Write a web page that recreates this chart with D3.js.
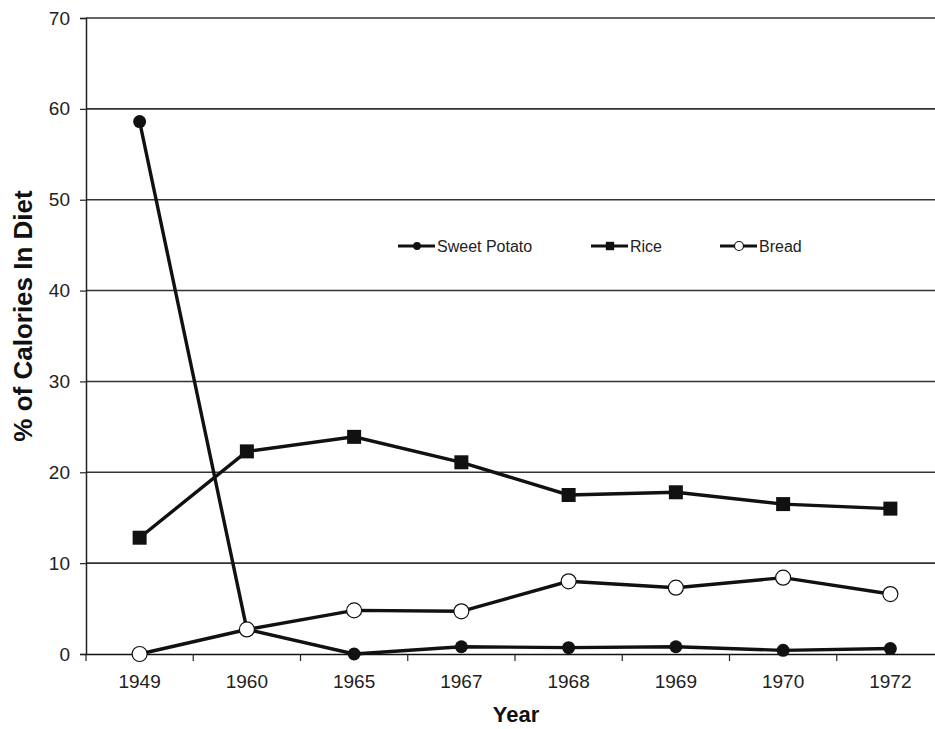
<html>
<head>
<script src="https://d3js.org/d3.v7.min.js"></script>
<style>
  body { margin: 0; background: white; }
  text { font-family: "Liberation Sans", Arial, sans-serif; }
</style>
</head>
<body>
<svg id="chart" width="935" height="729"></svg>
<script>
  const years = ["1949", "1960", "1965", "1967", "1968", "1969", "1970", "1972"];
  const sweetPotato = [58.6, 2.7, 0, 0.8, 0.7, 0.8, 0.4, 0.6];
  const rice = [12.8, 22.3, 23.9, 21.1, 17.5, 17.8, 16.5, 16.0];
  const bread = [0, 2.7, 4.8, 4.7, 8.0, 7.3, 8.4, 6.6];
  const yTicks = [0, 10, 20, 30, 40, 50, 60, 70];

  const series = [
    { name: "Sweet Potato", values: sweetPotato, marker: "dot" },
    { name: "Rice", values: rice, marker: "square" },
    { name: "Bread", values: bread, marker: "open" }
  ];

  const svg = d3.select("#chart");
  const plotLeft = 86, plotRight = 944, plotTop = 18, plotBottom = 654;

  const x = d3.scaleBand().domain(years).range([plotLeft, plotRight]);
  const y = d3.scaleLinear().domain([0, 70]).range([plotBottom, plotTop]);

  // gridlines
  svg.append("g").selectAll("line").data(yTicks.filter(d => d > 0))
    .join("line")
    .attr("x1", plotLeft).attr("x2", 935)
    .attr("y1", d => y(d)).attr("y2", d => y(d))
    .attr("stroke", "#333").attr("stroke-width", 1.6);

  // y axis
  const yAxis = svg.append("g").attr("transform", "translate(" + plotLeft + ",0)")
    .call(d3.axisLeft(y).tickValues(yTicks).tickSize(6).tickPadding(10));
  yAxis.select(".domain").attr("stroke", "#222").attr("stroke-width", 1.5);
  yAxis.selectAll("line").attr("stroke", "#222").attr("stroke-width", 1.2);
  yAxis.selectAll("text").attr("font-size", 19).attr("fill", "#222");

  // x axis
  const xAxis = svg.append("g").attr("transform", "translate(0," + plotBottom + ")")
    .call(d3.axisBottom(x).tickSize(0).tickPadding(21));
  xAxis.select(".domain").attr("stroke", "#111").attr("stroke-width", 1.5);
  xAxis.selectAll("text").attr("font-size", 19).attr("fill", "#222");
  xAxis.append("g").selectAll("line").data(d3.range(years.length + 1))
    .join("line")
    .attr("x1", i => plotLeft + i * x.step()).attr("x2", i => plotLeft + i * x.step())
    .attr("y1", 0).attr("y2", 7)
    .attr("stroke", "#222").attr("stroke-width", 1.2);

  // axis titles
  svg.append("text").attr("x", 516).attr("y", 722)
    .attr("text-anchor", "middle").attr("font-size", 22).attr("font-weight", "bold")
    .attr("fill", "#111").text("Year");
  svg.append("text").attr("transform", "translate(32,316) rotate(-90)")
    .attr("text-anchor", "middle").attr("font-size", 26).attr("font-weight", "bold")
    .attr("fill", "#111").text("% of Calories In Diet");

  const cx = (d, i) => x(years[i]) + x.bandwidth() / 2;
  const line = d3.line().x(cx).y(d => y(d));

  function drawMarker(g, type, px, py, s) {
    if (type === "square") {
      g.append("rect").attr("x", px - 7 * s).attr("y", py - 7 * s)
        .attr("width", 14 * s).attr("height", 14 * s).attr("fill", "#111");
    } else if (type === "dot") {
      g.append("circle").attr("cx", px).attr("cy", py).attr("r", 6.5 * s).attr("fill", "#111");
    } else {
      g.append("circle").attr("cx", px).attr("cy", py).attr("r", 7.5 * s)
        .attr("fill", "white").attr("stroke", "#111").attr("stroke-width", 1.2);
    }
  }

  const plot = svg.append("g");
  series.forEach(s => {
    plot.append("path").attr("d", line(s.values))
      .attr("fill", "none").attr("stroke", "#111").attr("stroke-width", 3.4);
  });
  series.forEach(s => {
    const g = plot.append("g");
    s.values.forEach((v, i) => drawMarker(g, s.marker, cx(v, i), y(v), 1));
  });

  // legend
  const legendX = [398, 591, 720];
  const legendY = 246;
  series.forEach((s, i) => {
    const g = svg.append("g");
    g.append("line").attr("x1", legendX[i]).attr("x2", legendX[i] + 37)
      .attr("y1", legendY).attr("y2", legendY)
      .attr("stroke", "#111").attr("stroke-width", 3);
    drawMarker(g, s.marker, legendX[i] + 19, legendY, 0.6);
    g.append("text").attr("x", legendX[i] + 39).attr("y", legendY + 6)
      .attr("font-size", 16).attr("fill", "#222").text(s.name);
  });
</script>
</body>
</html>
